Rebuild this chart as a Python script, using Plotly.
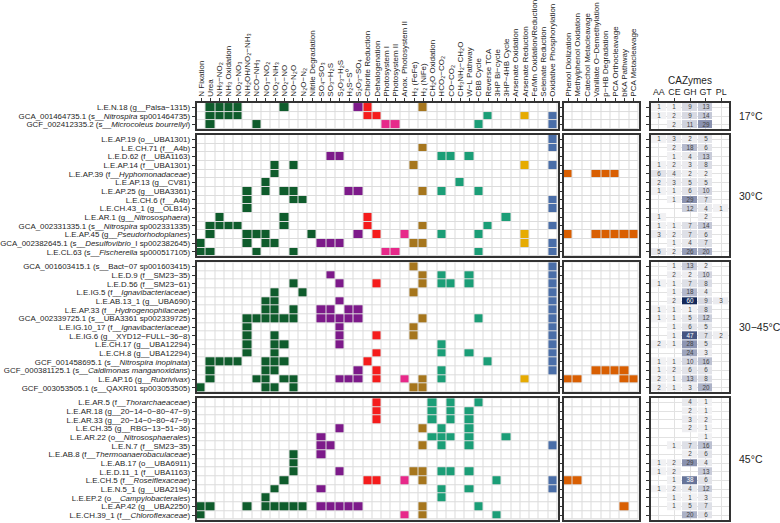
import plotly.graph_objects as go
import numpy as np

W, H = 780, 523

functions = ["N Fixation", "Urea", "NH₃−NO₂", "NH₃ Oxidation", "NO₂−NO₃", "NH₂OH/NO₂−NH₃",
             "NCO−NH₃", "NO₃−NO₂", "NO₂−NH₃", "NO₂−NO", "NO−N₂O", "N₂O−N₂", "Nitrile Degradation",
             "SO₄−SO₃", "SO₃−H₂S", "S₂O₃−H₂S", "H₂S−S⁰", "S₂O₃−SO₄", "Chlorite Reduction",
             "Dehalogenation", "Photosystem I", "Photosystem II", "Anox. Photosystem II",
             "H₂ (FeFe)", "H₂ (NiFe)", "CH₂O Oxidation", "HCO₂−CO₂", "CO−CO₂", "CH₃NH₂−CH₂O",
             "W−L Pathway", "CBB Cycle", "Reverse TCA", "3HP Bi−cycle", "3HP−4HB Cycle",
             "Arsenate Oxidation", "Arsenate Reduction", "Fe/Mn Oxidation/Reduction",
             "Selenate Reduction", "Oxidative Phosphorylation"]
func_group = [1] * 13 + [2] * 5 + [3] * 2 + [4] * 3 + [5] * 2 + [6] * 9 + [7] * 4 + [8]
aromatics = ["Phenol Diolization", "Methylphenol Oxidation", "Catechol Metacleavage",
             "Vanillate O−Demethylation", "p−HB Degradation", "PCA Orthocleavage",
             "bKA Pathway", "PCA Metacleavage"]
caz_classes = ["AA", "CE", "GH", "GT", "PL"]
group_colors = ["#ffffff", "#0f5c2c", "#7d1a8a", "#f51c1c", "#e7298a", "#a6761d",
                "#1b9e77", "#e6ab02", "#4a6ea8", "#d95f02"]

temps = ["17°C", "30°C", "30−45°C", "45°C"]

genomes_17 = ["L.E.N.18 (g__Palsa−1315)",
              "GCA_001464735.1 (s__<i>Nitrospira</i> sp001464735)",
              "GCF_002412335.2 (s__<i>Microcoleus bourrellyi</i>)"]
funcs_17 = [[1, 2, 3, 4, 9, 17, 18, 24],
            [1, 2, 3, 4, 18, 19, 31, 35, 38],
            [1, 6, 20, 21, 30, 38]]
arom_17 = [[], [], []]
caz_17 = [[1, 1, 9, 13, None], [1, 2, 9, 14, None], [None, 2, 11, 29, None]]

genomes_30 = ["L.E.AP.19 (o__UBA1301)", "L.E.CH.71 (f__A4b)", "L.E.D.62 (f__UBA1163)",
              "L.E.AP.14 (f__UBA1301)", "L.E.AP.39 (f__<i>Hyphomonadaceae</i>)",
              "L.E.AP.13 (g__CV81)", "L.E.AP.25 (g__UBA3361)", "L.E.CH.6 (f__A4b)",
              "L.E.CH.43_1 (g__OLB14)", "L.E.AR.1 (g__<i>Nitrososphaera</i>)",
              "GCA_002331335.1 (s__<i>Nitrospira</i> sp002331335)",
              "L.E.AP.45 (g__<i>Pseudorhodoplanes</i>)",
              "GCA_002382645.1 (s__<i>Desulfovibrio</i>_I sp002382645)",
              "L.E.CL.63 (s__<i>Fischerella</i> sp000517105)"]
funcs_30 = [[38],
            [24, 38],
            [14, 15, 26, 27, 29],
            [8, 10, 23, 35, 38],
            [8],
            [7, 28],
            [5, 7, 9, 10, 16, 17, 24, 26, 30],
            [5, 10, 11, 38],
            [5, 38],
            [2, 9, 18, 33],
            [1, 2, 3, 4, 9, 18, 24, 31, 38],
            [1, 5, 6, 7, 12, 17, 19, 22, 26, 30, 35],
            [0, 5, 7, 8, 13, 14, 15, 23, 24, 35, 38],
            [0, 1, 6, 10, 20, 21, 30, 38]]
arom_30 = [[], [], [], [], [0, 3, 4, 5], [], [], [], [], [], [], [0, 3, 4, 5, 6, 7], [], []]
caz_30 = [[1, 3, 2, 5, None], [None, 2, 18, 6, None], [None, 1, 4, 13, None],
          [1, 2, 3, 8, None], [6, 4, 2, 2, None], [2, 3, 5, 5, None],
          [1, 1, 6, 10, None], [None, 1, 29, 7, None], [None, None, 12, 4, 1],
          [1, None, None, 2, None], [1, 1, 7, 14, None], [3, 2, 7, 6, None],
          [None, 1, 4, 7, None], [5, 2, 26, 20, None]]

genomes_3045 = ["GCA_001603415.1 (s__Bact−07 sp001603415)", "L.E.D.9 (f__SM23−35)",
                "L.E.D.56 (f__SM23−61)", "L.E.IG.5 (f__<i>Ignavibacteriaceae</i>)",
                "L.E.AB.13_1 (g__UBA690)", "L.E.AP.33 (f__<i>Hydrogenophilaceae</i>)",
                "GCA_002339725.1 (s__UBA3361 sp002339725)",
                "L.E.IG.10_17 (f__<i>Ignavibacteriaceae</i>)",
                "L.E.IG.6 (g__XYD12−FULL−36−8)", "L.E.CH.17 (g__UBA12294)",
                "L.E.CH.8 (g__UBA12294)", "GCF_001458695.1 (s__<i>Nitrospira inopinata</i>)",
                "GCF_000381125.1 (s__<i>Caldimonas manganoxidans</i>)",
                "L.E.AP.16 (g__<i>Rubrivivax</i>)", "GCF_003053505.1 (s__QAXR01 sp003053505)"]
funcs_3045 = [[23, 38],
              [14, 24, 26, 29, 38],
              [10, 15, 19, 24, 26, 27, 29, 38],
              [8, 11, 23, 38],
              [7, 8, 15, 38],
              [7, 8, 10, 13, 14, 16, 17, 38],
              [5, 6, 7, 8, 9, 10, 13, 14, 15, 16, 17, 24, 30, 38],
              [5, 15, 23, 38],
              [5, 8, 15, 19, 23, 38],
              [5, 8, 9, 15, 26, 38],
              [5, 8, 19, 26, 29, 38],
              [1, 2, 3, 4, 7, 8, 9, 18, 31, 38],
              [1, 7, 8, 17, 19, 26, 38],
              [1, 6, 7, 9, 10, 15, 16, 17, 19, 22, 24, 26, 35],
              [0, 7, 8, 10, 23, 24]]
arom_3045 = [[], [], [], [], [], [], [], [], [], [], [], [], [3, 4, 5, 6], [0, 1, 6, 7], []]
caz_3045 = [[None, 1, 13, 2, None], [None, 2, 2, 10, None], [1, 1, 7, 8, None],
            [None, 1, 18, 4, None], [None, 2, 60, 9, 3], [1, 1, 1, 8, None],
            [1, 1, 5, 12, None], [None, 1, 6, 5, None], [None, 1, 47, 7, 2],
            [2, 1, 28, 5, None], [None, None, 24, 3, None], [1, 1, 10, 16, None],
            [1, 2, 6, 6, None], [2, 1, 13, 8, None], [2, 1, 3, 20, None]]

genomes_45 = ["L.E.AR.5 (f__<i>Thorarchaeaceae</i>)", "L.E.AR.18 (g__20−14−0−80−47−9)",
              "L.E.AR.33 (g__20−14−0−80−47−9)", "L.E.CH.35 (g__RBG−13−51−36)",
              "L.E.AR.22 (o__<i>Nitrososphaerales</i>)", "L.E.N.7 (f__SM23−35)",
              "L.E.AB.8 (f__<i>Thermoanaerobaculaceae</i>)", "L.E.AB.17 (o__UBA6911)",
              "L.E.D.11_1 (f__UBA1163)", "L.E.CH.5 (f__<i>Roseiflexaceae</i>)",
              "L.E.N.5_1 (g__UBA2194)", "L.E.EP.2 (o__<i>Campylobacterales</i>)",
              "L.E.AP.42 (g__UBA2250)", "L.E.CH.39_1 (f__<i>Chloroflexaceae</i>)"]
funcs_45 = [[19, 25, 27, 30],
            [19, 25, 27, 29],
            [19, 25, 27, 29],
            [15, 24, 26, 29],
            [13, 25, 26, 27, 29, 33],
            [13, 14, 24, 26, 29, 38],
            [10, 13],
            [10],
            [10, 15, 23, 24, 26, 27, 29],
            [9, 18, 19, 22, 24, 32, 38],
            [8, 13, 26, 29, 38],
            [7, 26],
            [0, 1, 5, 7, 8, 9, 10, 11, 13, 14, 15, 16, 17, 24, 30],
            [0, 22, 24, 32]]
arom_45 = [[], [], [], [], [], [], [], [], [], [0, 1], [], [], [6], []]
caz_45 = [[None, None, 4, 1, None], [None, None, 2, 1, None], [None, None, 3, 2, None],
          [None, None, 2, 1, None], [None, None, None, 1, None], [None, 1, 7, 16, None],
          [None, None, 2, 6, None], [1, 2, 29, 4, None], [1, 2, None, 13, None],
          [None, 1, 38, 6, None], [1, 2, 4, 12, None], [None, 1, 1, 3, None],
          [None, 1, 5, 7, None], [None, None, 20, 6, None]]

panels = [(genomes_17, funcs_17, arom_17, caz_17),
          (genomes_30, funcs_30, arom_30, caz_30),
          (genomes_3045, funcs_3045, arom_3045, caz_3045),
          (genomes_45, funcs_45, arom_45, caz_45)]

# ---------- layout geometry (pixels) ----------
X_MAIN = (196.5, 557.5)
X_AROM = (563.5, 638.5)
X_CAZ = (651.0, 729.0)
TOP0, ROW_H, GAP = 99.0, 8.75, 6.0

def px(x):
    return x / W

def py(y):
    return 1 - y / H

ncat = len(group_colors)
disc_scale = []
for k, c in enumerate(group_colors):
    lo = max(0.0, (k - 0.5) / (ncat - 1))
    hi = min(1.0, (k + 0.5) / (ncat - 1))
    disc_scale += [[lo, c], [hi, c]]

caz_scale = [[0.0, "#f1f1f3"], [0.08, "#e3e4ea"], [0.22, "#c4c8d7"], [0.45, "#8f97b4"],
             [0.75, "#4c5b87"], [1.0, "#14295a"]]

FONT = "Liberation Sans, Arial, sans-serif"
TXT = "#1e1e1e"
LAB = 7.9
fig = go.Figure()
layout = dict(width=W, height=H, margin=dict(l=0, r=0, t=0, b=0),
              paper_bgcolor="white", plot_bgcolor="white", showlegend=False,
              font=dict(family=FONT, size=9, color=TXT))
annotations = []
shapes = []

top = TOP0
ax = 1
for p, (genomes, funcs, aroms, caz) in enumerate(panels):
    n = len(genomes)
    bottom = top + n * ROW_H
    ydom = [py(bottom), py(top)]
    z_main = np.zeros((n, len(functions)))
    for i, cols in enumerate(funcs):
        for j in cols:
            z_main[i, j] = func_group[j]
    z_arom = np.zeros((n, len(aromatics)))
    for i, cols in enumerate(aroms):
        for j in cols:
            z_arom[i, j] = 9
    z_caz = np.array([[np.nan if v is None else v for v in r] for r in caz], dtype=float)

    for k, (z, xr, kind) in enumerate([(z_main, X_MAIN, "main"), (z_arom, X_AROM, "arom"),
                                        (z_caz, X_CAZ, "caz")]):
        xa = "x" if ax == 1 else f"x{ax}"
        ya = "y" if ax == 1 else f"y{ax}"
        xkey = "xaxis" if ax == 1 else f"xaxis{ax}"
        ykey = "yaxis" if ax == 1 else f"yaxis{ax}"
        ncol = z.shape[1]
        if kind == "caz":
            fig.add_trace(go.Heatmap(z=z, x=list(range(ncol)), y=list(range(n)), xaxis=xa, yaxis=ya,
                                     colorscale=caz_scale, zmin=1, zmax=60, showscale=False,
                                     xgap=1, ygap=1, texttemplate="%{z}",
                                     textfont=dict(size=6.3, family=FONT), hoverinfo="skip"))
        else:
            shapes.append(dict(type="rect", xref="paper", yref="paper", x0=px(xr[0]), x1=px(xr[1]),
                               y0=py(bottom), y1=py(top), fillcolor="#dcdcdc",
                               line=dict(width=0), layer="below"))
            fig.add_trace(go.Heatmap(z=z, x=list(range(ncol)), y=list(range(n)), xaxis=xa, yaxis=ya,
                                     colorscale=disc_scale, zmin=0, zmax=ncat - 1, showscale=False,
                                     xgap=1, ygap=1, hoverinfo="skip"))
        xaxis = dict(domain=[px(xr[0]), px(xr[1])], anchor=ya, range=[-0.5, ncol - 0.5],
                     showline=True, mirror=True, linecolor="#333333", linewidth=1.6,
                     showgrid=(kind == "caz"), gridcolor="#e2e2e2", gridwidth=1,
                     zeroline=False, fixedrange=True)
        if p == 0:
            if kind == "caz":
                ticktext = caz_classes
            elif kind == "main":
                ticktext = functions
            else:
                ticktext = aromatics
            xaxis.update(side="top", tickmode="array", tickvals=list(range(ncol)),
                         ticktext=ticktext, ticks="outside", ticklen=3, tickcolor="#333333",
                         tickwidth=1, tickangle=0 if kind == "caz" else -90,
                         tickfont=dict(size=8.8 if kind == "caz" else 8.0, family=FONT, color=TXT))
        else:
            xaxis.update(showticklabels=False, ticks="", tickvals=list(range(ncol)))
        yaxis = dict(domain=ydom, anchor=xa, range=[n - 0.5, -0.5], showline=True, mirror=True,
                     linecolor="#333333", linewidth=1.6, showgrid=(kind == "caz"),
                     gridcolor="#e2e2e2", zeroline=False, tickmode="array",
                     tickvals=list(range(n)), ticks="outside", ticklen=3, tickcolor="#333333",
                     tickwidth=1, fixedrange=True)
        if kind == "main":
            yaxis.update(ticktext=genomes, tickfont=dict(size=LAB, family=FONT, color=TXT))
        else:
            yaxis.update(showticklabels=False)
        layout[xkey] = xaxis
        layout[ykey] = yaxis
        ax += 1

    annotations.append(dict(x=px(737), y=py((top + bottom) / 2), xref="paper", yref="paper",
                            text=temps[p], showarrow=False, xanchor="left", yanchor="middle",
                            font=dict(size=10.5, family=FONT, color=TXT)))
    top = bottom + GAP

annotations.append(dict(x=px((X_CAZ[0] + X_CAZ[1]) / 2), y=py(76.5), xref="paper", yref="paper",
                        text="CAZymes", showarrow=False, xanchor="center", yanchor="middle",
                        font=dict(size=10, family=FONT, color=TXT)))
layout["annotations"] = annotations
layout["shapes"] = shapes
fig.update_layout(**layout)

# the page body has a default 8px margin; remove it so the figure fills the window exactly
fig.write_html("out.html", config={"displayModeBar": False},
               post_script="document.body.style.margin='0px';document.body.style.overflow='hidden';")
